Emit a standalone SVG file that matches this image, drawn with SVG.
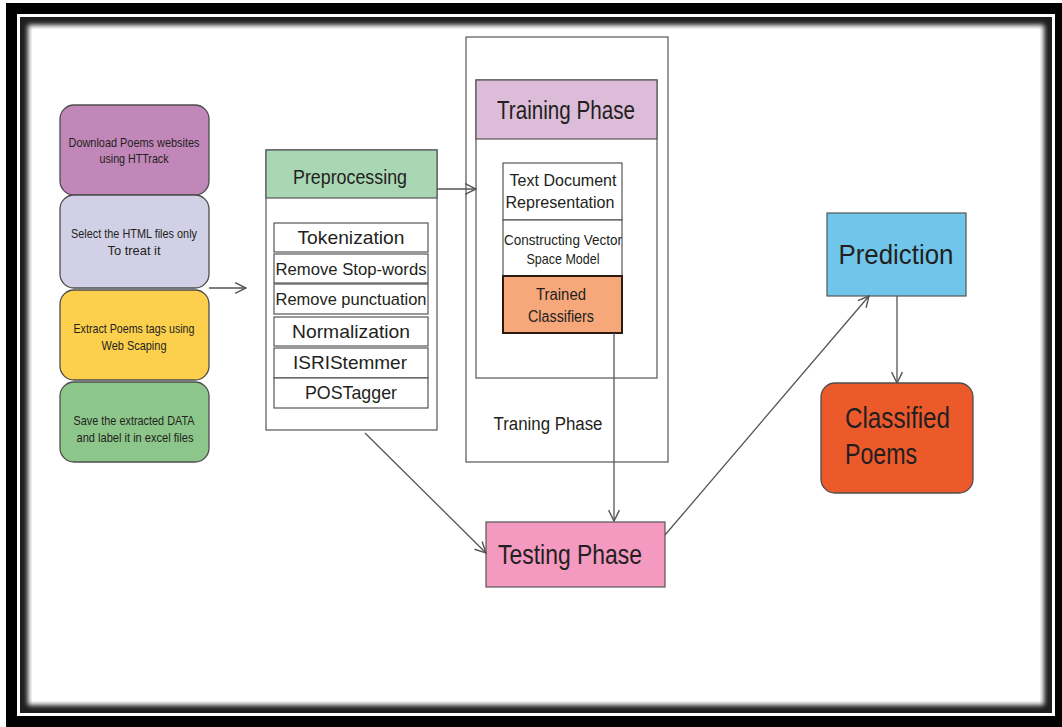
<svg xmlns="http://www.w3.org/2000/svg" width="1062" height="727" viewBox="0 0 1062 727">
<style>
  text { font-family: "Liberation Sans", Arial, sans-serif; fill: #231f20; text-anchor: middle; }
  .lb { stroke: #4d4d4d; stroke-width: 1.3; }
  .box { stroke: #555; stroke-width: 1.2; }
  .conn { stroke: #555; stroke-width: 1.3; fill: none; marker-end: url(#arr); }
  .s13 { font-size: 13.5px; }
  .s18 { font-size: 19px; }
</style>
<defs>
  <marker id="arr" viewBox="0 0 12 12" refX="11" refY="6" markerWidth="13" markerHeight="13" markerUnits="userSpaceOnUse" orient="auto">
    <path d="M1,1 L11,6 L1,11" fill="none" stroke="#555" stroke-width="1.3"/>
  </marker>
  <filter id="soft" x="-5%" y="-5%" width="110%" height="110%">
    <feGaussianBlur stdDeviation="2.5"/>
  </filter>
</defs>
<g id="frame">
  <rect x="0" y="0" width="1062" height="727" fill="#fff"/>
  <rect x="6" y="3" width="1056" height="724" fill="#000"/>
  <rect x="17" y="14" width="1038" height="702" fill="#fff"/>
  <rect x="20" y="17" width="1032" height="696" fill="#1e1e1e"/>
  <rect x="28" y="25" width="1016" height="680" fill="#fff" filter="url(#soft)"/>
  <rect x="32" y="29" width="1008" height="672" fill="#fff"/>
</g>
<g id="download">
  <rect class="lb" x="60" y="105" width="149" height="90" rx="14" fill="#c087b8"/>
  <text class="s13" x="134" y="147" textLength="131" lengthAdjust="spacingAndGlyphs">Download Poems websites</text>
  <text class="s13" x="134" y="163" textLength="69" lengthAdjust="spacingAndGlyphs">using HTTrack</text>
</g>
<g id="select">
  <rect class="lb" x="60" y="195" width="149" height="93" rx="14" fill="#d1d0e6"/>
  <text class="s13" x="134" y="238" textLength="126" lengthAdjust="spacingAndGlyphs">Select the HTML files only</text>
  <text class="s13" x="134" y="255" textLength="53" lengthAdjust="spacingAndGlyphs">To treat it</text>
</g>
<g id="extract">
  <rect class="lb" x="60" y="290" width="149" height="90" rx="14" fill="#fccf4d"/>
  <text class="s13" x="134" y="333" textLength="121" lengthAdjust="spacingAndGlyphs">Extract Poems tags using</text>
  <text class="s13" x="134" y="350" textLength="65" lengthAdjust="spacingAndGlyphs">Web Scaping</text>
</g>
<g id="save">
  <rect class="lb" x="60" y="382" width="149" height="80" rx="14" fill="#8dc68a"/>
  <text class="s13" x="134" y="425" textLength="121" lengthAdjust="spacingAndGlyphs">Save the extracted DATA</text>
  <text class="s13" x="135" y="442" textLength="117" lengthAdjust="spacingAndGlyphs">and label it in excel files</text>
</g>
<g id="preprocessing">
  <rect class="box" x="266" y="150" width="171" height="280" fill="#fff"/>
  <rect class="box" x="266" y="150" width="171" height="48" fill="#a9d6b3"/>
  <text x="350" y="184" font-size="21" textLength="114" lengthAdjust="spacingAndGlyphs">Preprocessing</text>
  <rect class="box" x="274" y="223" width="154" height="29" fill="#fff"/>
  <rect class="box" x="274" y="254" width="154" height="29" fill="#fff"/>
  <rect class="box" x="274" y="284" width="154" height="30" fill="#fff"/>
  <rect class="box" x="274" y="317" width="154" height="29" fill="#fff"/>
  <rect class="box" x="274" y="348" width="154" height="30" fill="#fff"/>
  <rect class="box" x="274" y="378" width="154" height="30" fill="#fff"/>
  <text class="s18" x="351" y="244" textLength="107" lengthAdjust="spacingAndGlyphs">Tokenization</text>
  <text x="351" y="275" font-size="17" textLength="151" lengthAdjust="spacingAndGlyphs">Remove Stop-words</text>
  <text x="351" y="305" font-size="17" textLength="151" lengthAdjust="spacingAndGlyphs">Remove punctuation</text>
  <text class="s18" x="351" y="338" textLength="118" lengthAdjust="spacingAndGlyphs">Normalization</text>
  <text class="s18" x="350" y="369" textLength="114" lengthAdjust="spacingAndGlyphs">ISRIStemmer</text>
  <text class="s18" x="351" y="399" textLength="92" lengthAdjust="spacingAndGlyphs">POSTagger</text>
</g>
<g id="training">
  <rect class="box" x="466" y="37" width="202" height="425" fill="#fff"/>
  <rect class="box" x="476" y="80" width="181" height="298" fill="#fff"/>
  <rect class="box" x="476" y="80" width="181" height="59" fill="#dcbcd8"/>
  <text x="566" y="119" font-size="25" textLength="138" lengthAdjust="spacingAndGlyphs">Training Phase</text>
  <rect class="box" x="503" y="163" width="119" height="57" fill="#fff"/>
  <text x="563" y="186" font-size="17" textLength="107" lengthAdjust="spacingAndGlyphs">Text Document</text>
  <text x="560" y="208" font-size="17" textLength="109" lengthAdjust="spacingAndGlyphs">Representation</text>
  <rect class="box" x="503" y="220" width="119" height="56" fill="#fff"/>
  <text x="563" y="245" font-size="15" textLength="118" lengthAdjust="spacingAndGlyphs">Constructing Vector</text>
  <text x="563" y="264" font-size="15" textLength="73" lengthAdjust="spacingAndGlyphs">Space Model</text>
  <rect x="503" y="276" width="119" height="57" fill="#f6a87a" stroke="#2b1a10" stroke-width="2"/>
  <text x="561" y="300" font-size="16" textLength="50" lengthAdjust="spacingAndGlyphs">Trained</text>
  <text x="561" y="322" font-size="16" textLength="66" lengthAdjust="spacingAndGlyphs">Classifiers</text>
  <text x="548" y="430" font-size="18" textLength="109" lengthAdjust="spacingAndGlyphs">Traning Phase</text>
</g>
<g id="testing">
  <rect class="box" x="486" y="522" width="179" height="65" fill="#f49ac0"/>
  <text x="570" y="564" font-size="28" textLength="144" lengthAdjust="spacingAndGlyphs">Testing Phase</text>
</g>
<g id="prediction">
  <rect class="box" x="827" y="213" width="139" height="83" fill="#6fc6ea"/>
  <text x="896" y="264" font-size="28" textLength="115" lengthAdjust="spacingAndGlyphs">Prediction</text>
</g>
<g id="classified">
  <rect x="821" y="383" width="152" height="110" rx="14" fill="#ec5a2c" stroke="#4d4d4d" stroke-width="1.3"/>
  <text x="845" y="428" font-size="30" style="text-anchor:start" textLength="105" lengthAdjust="spacingAndGlyphs">Classified</text>
  <text x="845" y="464" font-size="30" style="text-anchor:start" textLength="72" lengthAdjust="spacingAndGlyphs">Poems</text>
</g>
<g id="connectors">
  <line class="conn" x1="209" y1="288" x2="246" y2="288"/>
  <line class="conn" x1="437" y1="189" x2="476" y2="189"/>
  <line class="conn" x1="614" y1="333" x2="614" y2="521"/>
  <line class="conn" x1="365" y1="433" x2="486" y2="553"/>
  <line class="conn" x1="665" y1="535" x2="869" y2="296"/>
  <line class="conn" x1="897" y1="296" x2="897" y2="383"/>
</g>
</svg>
